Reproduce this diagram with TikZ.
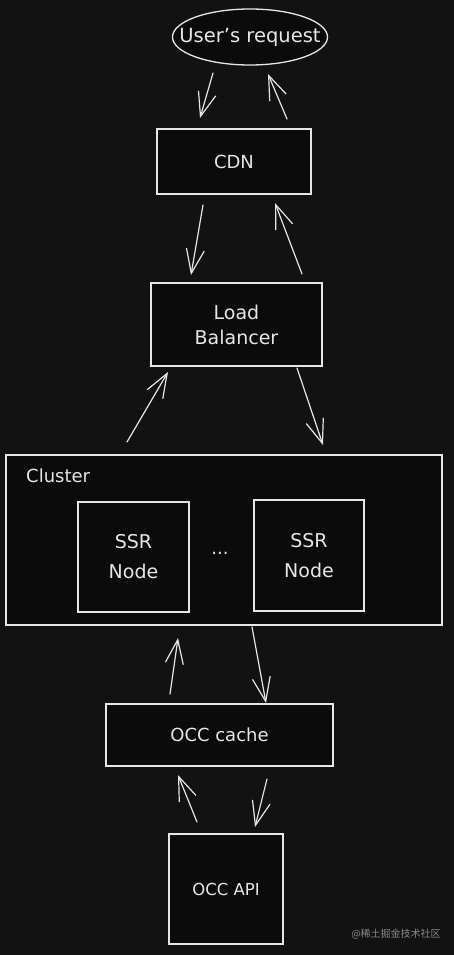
\documentclass[tikz,border=0pt]{standalone}
\usepackage{fontspec}
\setmainfont{DejaVu Sans}
\newfontfamily\cjkfont{Noto Sans CJK SC}
\usetikzlibrary{arrows.meta,shapes.geometric}
\definecolor{bgc}{HTML}{121212}
\definecolor{inkc}{HTML}{E6E6E6}
\definecolor{boxfill}{HTML}{0B0B0B}
\definecolor{wmc}{HTML}{8A8A8A}
\tikzset{
  sketchbox/.style={draw=inkc, line width=1.3pt, fill=boxfill, rectangle, inner sep=0pt, text=inkc, align=center, font=\fontsize{18}{25}\selectfont},
  sketchell/.style={draw=inkc, line width=1.3pt, fill=boxfill, ellipse, inner sep=0pt},
  flow/.style={draw=inkc, line width=1.2pt, line cap=round, -{Straight Barb[length=24pt,width=18pt,line width=1.2pt]}},
  lbl/.style={text=inkc, inner sep=0pt}
}
\begin{document}
\begin{tikzpicture}[x=1pt,y=-1pt]
\fill[bgc] (0,0) rectangle (454,955);
\useasboundingbox (0,0) rectangle (454,955);

% nodes
\node[sketchell, minimum width=155pt, minimum height=56pt] (user) at (250,37) {};
\node[lbl, font=\fontsize{19.5}{22}\selectfont] (usertxt) at (user.center) {User's request};
\node[sketchbox, minimum width=154pt, minimum height=65pt] (cdn) at (234,161.5) {CDN};
\node[sketchbox, minimum width=171pt, minimum height=83pt, font=\fontsize{19}{25}\selectfont] (lb) at (236.5,324.5) {Load\\Balancer};
\node[sketchbox, minimum width=436pt, minimum height=170pt] (cluster) at (224,540) {};
\node[lbl, anchor=west, font=\fontsize{18}{20}\selectfont] (clusterlbl) at (26,476) {Cluster};
\node[sketchbox, minimum width=111pt, minimum height=110pt, font=\fontsize{19}{30}\selectfont] (ssra) at (133.5,557) {SSR\\Node};
\node[sketchbox, minimum width=110pt, minimum height=111pt, font=\fontsize{19}{30}\selectfont] (ssrb) at (309,555.5) {SSR\\Node};
\node[lbl, font=\fontsize{18}{20}\selectfont] (dots) at (220,553) {...};
\node[sketchbox, minimum width=227pt, minimum height=62pt, font=\fontsize{18}{20}\selectfont] (cache) at (219.5,735) {OCC cache};
\node[sketchbox, minimum width=114pt, minimum height=110pt, font=\fontsize{16.5}{18}\selectfont] (api) at (226,889) {OCC API};
\node[text=wmc, inner sep=0pt, font=\cjkfont\fontsize{10}{12}\selectfont] (wm) at (396,934) {@稀土掘金技术社区};

% arrow end points
\coordinate (u1) at (213,73);   \coordinate (c1) at (200,118);
\coordinate (c2) at (287,119);  \coordinate (u2) at (268,74);
\coordinate (c3) at (203,205);  \coordinate (l3) at (191,275);
\coordinate (l4) at (302,274);  \coordinate (c4) at (275,203);
\coordinate (k5) at (127,442);  \coordinate (l5) at (168,372);
\coordinate (l6) at (297,368);  \coordinate (k6) at (323,445);
\coordinate (o7) at (170,694);  \coordinate (k7) at (178,638);
\coordinate (k8) at (252,627);  \coordinate (o8) at (266,703);
\coordinate (a9) at (197,822);  \coordinate (o9) at (178,775);
\coordinate (o10) at (267,779); \coordinate (a10) at (255,827);

% connectors
\draw[flow] (u1) -- (c1);
\draw[flow] (c2) -- (u2);
\draw[flow] (c3) -- (l3);
\draw[flow] (l4) -- (c4);
\draw[flow] (k5) -- (l5);
\draw[flow] (l6) -- (k6);
\draw[flow] (o7) -- (k7);
\draw[flow] (k8) -- (o8);
\draw[flow] (a9) -- (o9);
\draw[flow] (o10) -- (a10);
\end{tikzpicture}
\end{document}
